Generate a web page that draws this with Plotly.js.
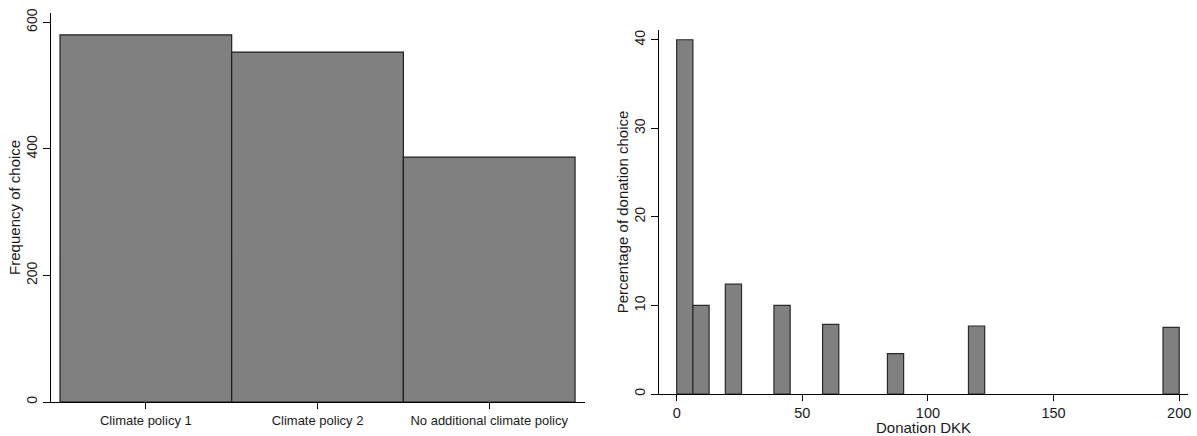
<!DOCTYPE html>
<html>
<head>
<meta charset="utf-8">
<script src="https://cdn.plot.ly/plotly-3.0.1.min.js"></script>
<style>
  html, body { margin: 0; padding: 0; background: #fff; }
  #chart { width: 1197px; height: 436px; }
</style>
</head>
<body>
<div id="chart"></div>
<script>
// ---- Data: left panel (frequency of policy choice) ----
var policyCategories = ['Climate policy 1', 'Climate policy 2', 'No additional climate policy'];
var policyFrequency = [580, 553, 387];

// ---- Data: right panel (histogram of donations, 31 bins over 0..200 DKK) ----
var donationBinWidth = 200 / 31;
var donationBinIndex = [0, 1, 3, 6, 9, 13, 18, 30];
var donationPercent = [40.0, 10.0, 12.4, 10.0, 7.87, 4.55, 7.68, 7.53];

var leftTicks = [0, 200, 400, 600];
var rightYTicks = [0, 10, 20, 30, 40];
var rightXTicks = [0, 50, 100, 150, 200];

var donationBinStart = donationBinIndex.map(function (i) { return i * donationBinWidth; });

var FONT = '"Liberation Sans", Arial, Helvetica, sans-serif';
var TXT = '#1a1a1a';
var W = 1197, H = 436;

var traces = [
  {
    type: 'bar',
    x: policyCategories,
    y: policyFrequency,
    width: 1,
    marker: { color: '#808080', line: { color: '#1e1e1e', width: 1.2 } },
    xaxis: 'x', yaxis: 'y',
    hoverinfo: 'x+y'
  },
  {
    type: 'bar',
    x: donationBinStart,
    y: donationPercent,
    width: donationBinWidth,
    offset: 0,
    marker: { color: '#808080', line: { color: '#2a2a2a', width: 1.2 } },
    xaxis: 'x2', yaxis: 'y2',
    hoverinfo: 'y'
  }
];

var axisCommon = {
  showline: true, linecolor: '#000', linewidth: 1,
  ticks: 'outside', tickcolor: '#000', tickwidth: 1,
  showgrid: false, zeroline: false, fixedrange: true,
  automargin: false
};

var layout = {
  width: W, height: H,
  margin: { l: 0, r: 0, t: 0, b: 0 },
  paper_bgcolor: '#fff', plot_bgcolor: '#fff',
  showlegend: false,
  bargap: 0,
  font: { family: FONT, color: TXT },
  xaxis: Object.assign({}, axisCommon, {
    domain: [51 / W, 585 / W],
    anchor: 'y',
    type: 'category',
    range: [-0.5524, 2.558],
    ticklen: 6,
    tickfont: { family: FONT, size: 13, color: TXT }
  }),
  yaxis: Object.assign({}, axisCommon, {
    domain: [1 - 402 / H, 1 - 12.7 / H],
    anchor: 'x',
    range: [0, 615.2],
    tickvals: leftTicks,
    ticktext: leftTicks.map(String),
    tickangle: -90,
    ticklen: 7,
    tickfont: { family: FONT, size: 14, color: TXT },
    title: { text: 'Frequency of choice', font: { family: FONT, size: 15, color: TXT }, standoff: 0 }
  }),
  xaxis2: Object.assign({}, axisCommon, {
    domain: [659 / W, 1188 / W],
    anchor: 'y2',
    range: [-7.04, 203.5],
    tickvals: rightXTicks,
    ticktext: rightXTicks.map(String),
    ticklen: 6,
    tickfont: { family: FONT, size: 14.5, color: TXT },
    title: { text: 'Donation DKK', font: { family: FONT, size: 15, color: TXT }, standoff: 0 }
  }),
  yaxis2: Object.assign({}, axisCommon, {
    domain: [1 - 394 / H, 1 - 30 / H],
    anchor: 'x2',
    range: [0, 41.1],
    tickvals: rightYTicks,
    ticktext: rightYTicks.map(String),
    tickangle: -90,
    ticklen: 7,
    tickfont: { family: FONT, size: 14, color: TXT },
    title: { text: 'Percentage of donation choice', font: { family: FONT, size: 15, color: TXT }, standoff: 0 }
  })
};

Plotly.newPlot('chart', traces, layout, { staticPlot: true, displayModeBar: false });
</script>
</body>
</html>
